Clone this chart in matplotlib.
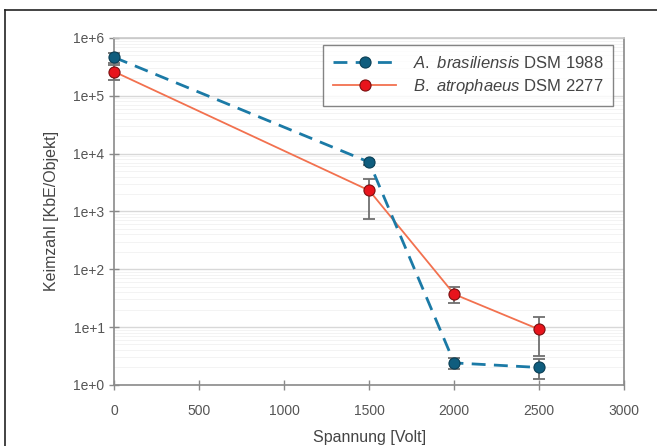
import matplotlib
matplotlib.use("Agg")
import matplotlib.pyplot as plt
from matplotlib.lines import Line2D
import numpy as np

plt.rcParams["font.family"] = ["Liberation Sans", "DejaVu Sans"]
plt.rcParams["mathtext.fontset"] = "custom"
plt.rcParams["mathtext.it"] = "Liberation Sans:italic"
plt.rcParams["mathtext.rm"] = "Liberation Sans"

# Spannung [V]
voltage = [0, 1500, 2000, 2500]

# A. brasiliensis DSM 1988: mean, lower and upper bound
bras_mean = [4.6e5, 7.1e3, 2.4, 2.0]
bras_low = [3.7e5, 6.4e3, 1.85, 1.25]
bras_high = [5.5e5, 7.7e3, 2.9, 2.8]

# B. atrophaeus DSM 2277
atro_mean = [2.6e5, 2.3e3, 37, 9.1]
atro_low = [1.9e5, 7.3e2, 26, 3.1]
atro_high = [3.35e5, 3.7e3, 49, 14.8]

bras_label = r"$\it{A.\ brasiliensis}$ DSM 1988"
atro_label = r"$\it{B.\ atrophaeus}$ DSM 2277"

ytick_vals = [1e0, 1e1, 1e2, 1e3, 1e4, 1e5, 1e6]
ytick_text = ["1e+0", "1e+1", "1e+2", "1e+3", "1e+4", "1e+5", "1e+6"]
xtick_vals = [0, 500, 1000, 1500, 2000, 2500, 3000]

fig = plt.figure(figsize=(6.57, 4.46), dpi=100)
ax = fig.add_axes([0.174, 0.137, 0.776, 0.778])

grey = "#8a8a8a"


def yerr(mean, low, high):
    m = np.array(mean)
    return [m - np.array(low), np.array(high) - m]


for mean, low, high in [(atro_mean, atro_low, atro_high), (bras_mean, bras_low, bras_high)]:
    eb = ax.errorbar(voltage, mean, yerr=yerr(mean, low, high),
                     fmt="none", ecolor="#707070", elinewidth=1.3,
                     capsize=4, capthick=1.3, zorder=3)
    for art in eb.lines[1] + eb.lines[2]:
        art.set_clip_on(False)

ax.plot(voltage, bras_mean, color="#1b7aa6", lw=2.0, dashes=(5, 3),
        marker="o", ms=8, mfc="#0f5d7e", mec="#0b3f55", mew=0.8,
        label=bras_label, zorder=5, clip_on=False)
ax.plot(voltage, atro_mean, color="#f2714f", lw=1.3,
        marker="o", ms=8, mfc="#e8141c", mec="#7a1010", mew=0.8,
        label=atro_label, zorder=4, clip_on=False)

ax.set_yscale("log")
ax.set_ylim(1, 1e6)
ax.set_xlim(0, 3000)
ax.set_yticks(ytick_vals)
ax.set_yticklabels(ytick_text)
ax.yaxis.set_minor_formatter(plt.NullFormatter())
ax.tick_params(axis="y", which="minor", length=0)
ax.set_xticks(xtick_vals)

ax.grid(True, which="major", axis="y", color="#d8d8d8", lw=1.0)
ax.grid(True, which="minor", axis="y", color="#f3f3f3", lw=0.7)
ax.set_axisbelow(True)

for side in ["left", "bottom", "right", "top"]:
    ax.spines[side].set_color(grey)
    ax.spines[side].set_linewidth(1.2)
ax.spines["top"].set_color("#c8c8c8")

ax.tick_params(axis="both", which="major", direction="inout", length=7,
               color=grey, labelcolor="#555555", labelsize=10, width=1.0)
ax.tick_params(axis="x", pad=10)

ax.set_xlabel("Spannung [Volt]", fontsize=11.5, color="#444444", labelpad=9)
ax.set_ylabel("Keimzahl [KbE/Objekt]", fontsize=11.5, color="#444444", labelpad=10)

leg = ax.legend(loc="upper right", bbox_to_anchor=(0.979, 0.98), borderaxespad=0,
                fontsize=12, frameon=True, fancybox=False, handlelength=3.8,
                borderpad=0.6, labelspacing=0.35, handletextpad=1.0)
leg.get_frame().set_edgecolor("#666666")
leg.get_frame().set_linewidth(1.0)
for t in leg.get_texts():
    t.set_color("#444444")

# thin black frame along the top and left edge
fig.add_artist(Line2D([0.008, 1.0], [0.977, 0.977], color="#222222", lw=1.2))
fig.add_artist(Line2D([0.008, 0.008], [0.0, 0.977], color="#222222", lw=1.2))

fig.savefig("out.png", dpi=100)
